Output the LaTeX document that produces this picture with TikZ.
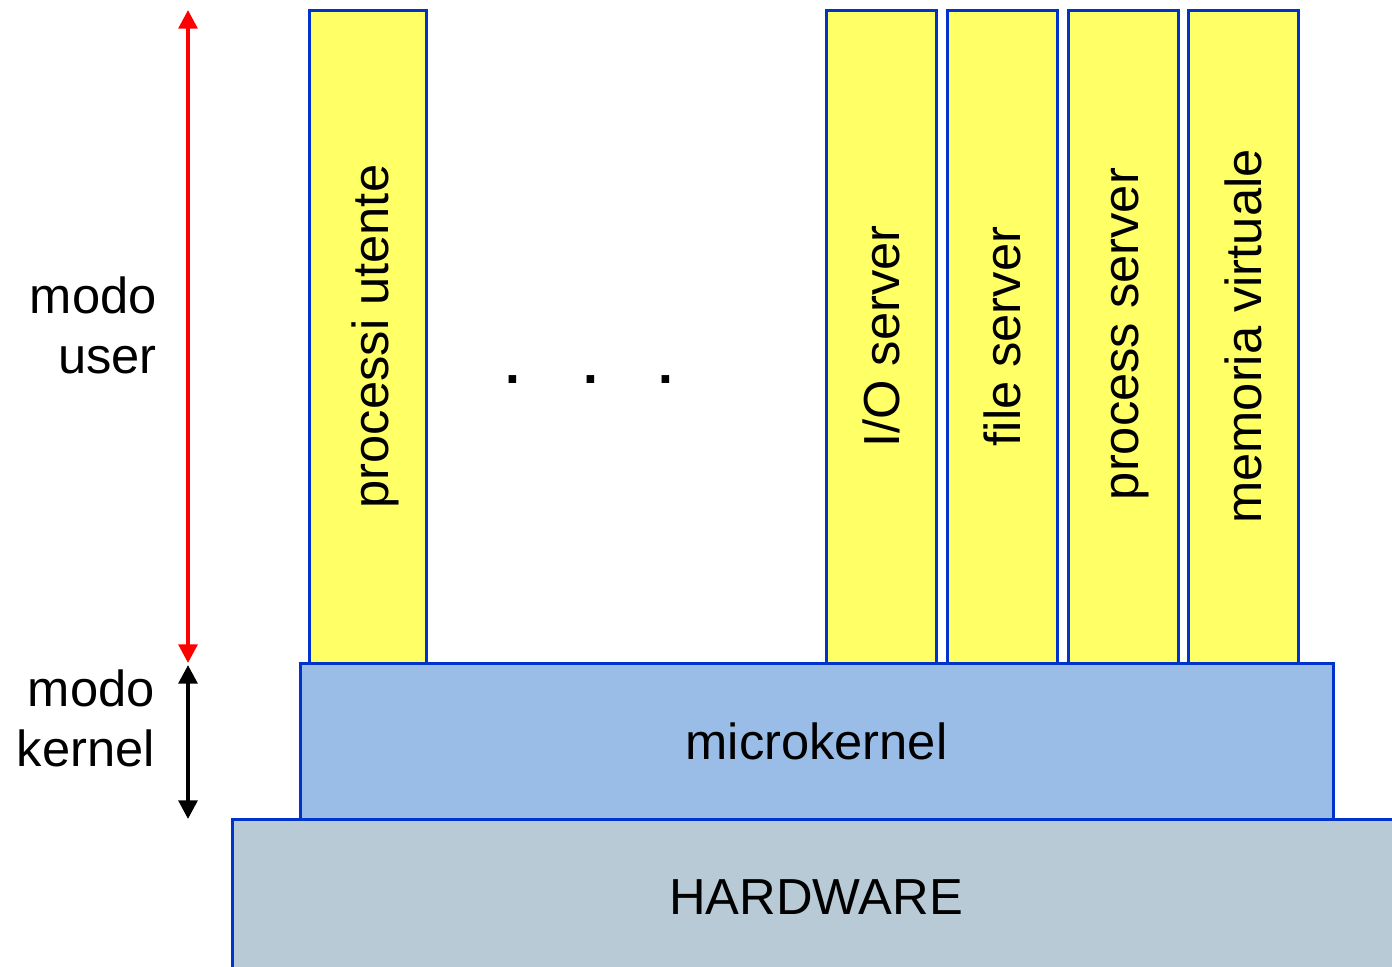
\documentclass[tikz,border=0pt]{standalone}
\usepackage{fontspec}
\setmainfont{Liberation Sans}
\usetikzlibrary{arrows.meta}
\definecolor{bblue}{RGB}{0,51,204}
\definecolor{yfill}{RGB}{255,255,102}
\definecolor{mkfill}{RGB}{153,189,230}
\definecolor{hwfill}{RGB}{183,202,214}
\tikzset{
  bigfont/.style={font=\fontsize{38}{45}\selectfont},
  ybox/.style={draw=bblue, fill=yfill, line width=2.25pt, rotate=90, inner sep=0pt, bigfont, minimum width=489.75pt},
  layer/.style={draw=bblue, line width=2.25pt, inner sep=0pt, bigfont},
  modearrow/.style={line width=3pt, {Triangle[width=14pt,length=14pt]}-{Triangle[width=14pt,length=14pt]}},
  lbl/.style={bigfont, align=right, anchor=east, inner sep=0pt},
  dotnode/.style={font=\fontsize{40}{45}\selectfont\bfseries, anchor=base, inner sep=0pt}
}
\begin{document}
\begin{tikzpicture}[x=0.75pt,y=-0.75pt]
\useasboundingbox (0,0) rectangle (1392,967);
% layers
\node[layer, fill=hwfill, minimum width=876pt, minimum height=117pt] (hw) at (816,897) {HARDWARE};
\node[layer, fill=mkfill, minimum width=774.75pt, minimum height=117pt] (mk) at (816.5,741) {microkernel};
% user-mode boxes
\node[ybox, minimum height=87.75pt] (pu) at (367.5,336.5) {};
\node[ybox, minimum height=82.5pt] (io) at (881,336.5) {I/O server};
\node[ybox, minimum height=82.5pt] (fs) at (1002,336.5) {file server};
\node[ybox, minimum height=82.5pt] (ps) at (1123,336.5) {};
\node[ybox, minimum height=82.5pt] (mv) at (1243,336.5) {memoria virtuale};
\node[bigfont, rotate=90, inner sep=0pt] (put) at (375,336.5) {processi utente};
\node[bigfont, rotate=90, inner sep=0pt] (pst) at (1130,334) {process server};
% dots
\node[dotnode] (d1) at (513,383) {.};
\node[dotnode] (d2) at (591,383) {.};
\node[dotnode] (d3) at (666,383) {.};
% mode labels
\node[lbl] (mu) at (157,325) {modo\\user};
\node[lbl] (mk2) at (155,718) {modo\\kernel};
% arrows
\coordinate (ut) at (188,10);
\coordinate (ub) at (188,663);
\coordinate (kt) at (188,665);
\coordinate (kb) at (188,819);
\draw[modearrow, red] (ut) -- (ub);
\draw[modearrow, black] (kt) -- (kb);
\end{tikzpicture}
\end{document}
